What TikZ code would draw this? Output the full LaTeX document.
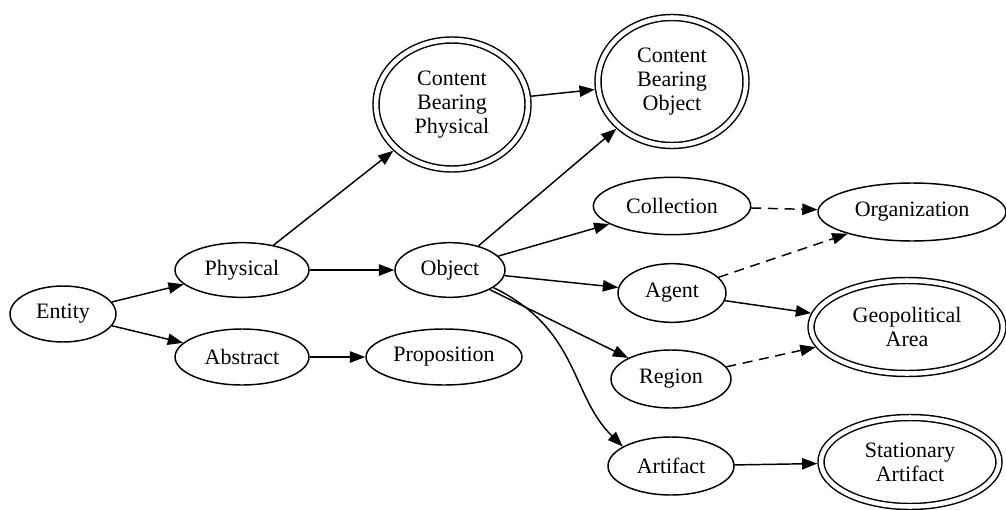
\documentclass[tikz,border=0pt]{standalone}
\usepackage{fontspec}
\setmainfont{Liberation Serif}
\usetikzlibrary{shapes.geometric,arrows.meta}

\tikzset{every picture/.style={line width=1.1pt}}
\tikzset{
  cls/.style={draw, ellipse, inner sep=0pt, align=center, font=\fontsize{16.5}{18}\selectfont},
  dcls/.style={cls, double, double distance=3.4pt, outer sep=2.8pt},
  isa/.style={-{Triangle[length=11.5pt,width=8.5pt]}},
  rel/.style={isa, dash pattern=on 7.5pt off 5pt},
}

\begin{document}
\begin{tikzpicture}[x=0.75pt,y=0.75pt,yscale=-1,xscale=1]
	\useasboundingbox (0,0) rectangle (1006,510); %set diagram size 1006 x 510

	% Ellipse Nodes
	\node[cls, minimum width=79.5pt, minimum height=42pt] (entity) at (63,314) {Entity};
	\node[cls, minimum width=100.5pt, minimum height=41pt] (physical) at (242,270) {Physical};
	\node[cls, minimum width=100.5pt, minimum height=42pt] (abstract) at (242,357) {Abstract};
	\node[cls, minimum width=117pt, minimum height=42pt] (proposition) at (444,357) {Proposition};
	\node[cls, minimum width=82.5pt, minimum height=41pt] (object) at (450,270) {Object};
	\node[cls, minimum width=118pt, minimum height=43pt] (collection) at (672,206) {Collection};
	\node[cls, minimum width=141pt, minimum height=43.5pt] (organization) at (912,212) {Organization};
	\node[cls, minimum width=81pt, minimum height=44pt] (agent) at (672,293) {Agent};
	\node[cls, minimum width=90pt, minimum height=43.5pt] (region) at (671,379) {Region};
	\node[cls, minimum width=94.5pt, minimum height=43.5pt] (artifact) at (671,466) {Artifact};
	% Double Ellipse Nodes
	\node[dcls, minimum width=114pt, minimum height=96.75pt] (cbphys) at (452,104.5) {Content\\Bearing\\Physical};
	\node[dcls, minimum width=111pt, minimum height=96pt] (cbobj) at (672,81.5) {Content\\Bearing\\Object};
	\node[dcls, minimum width=144pt, minimum height=69.75pt] (geoarea) at (907,327) {Geopolitical\\Area};
	\node[dcls, minimum width=133.5pt, minimum height=66.75pt] (statart) at (910,462) {Stationary\\Artifact};

	% Straight Lines
	\draw[isa] (entity) -- (physical);
	\draw[isa] (entity) -- (abstract);
	\draw[isa] (physical) -- (object);
	\draw[isa] (physical) -- (cbphys);
	\draw[isa] (abstract) -- (proposition);
	\draw[isa] (cbphys) -- (cbobj);
	\draw[isa] (object) -- (cbobj);
	\draw[isa] (object) -- (collection);
	\draw[isa] (object) -- (agent);
	\draw[isa] (object) -- (region);
	\draw[isa] (agent) -- (geoarea);
	\draw[isa] (artifact) -- (statart);
	% Curve Lines
	\draw[isa] (object.-22) .. controls (580,330) and (570,395) .. (artifact.158);
	% Dashed Lines
	\draw[rel] (collection) -- (organization);
	\draw[rel] (agent) -- (organization);
	\draw[rel] (region) -- (geoarea);

\end{tikzpicture}
\end{document}
